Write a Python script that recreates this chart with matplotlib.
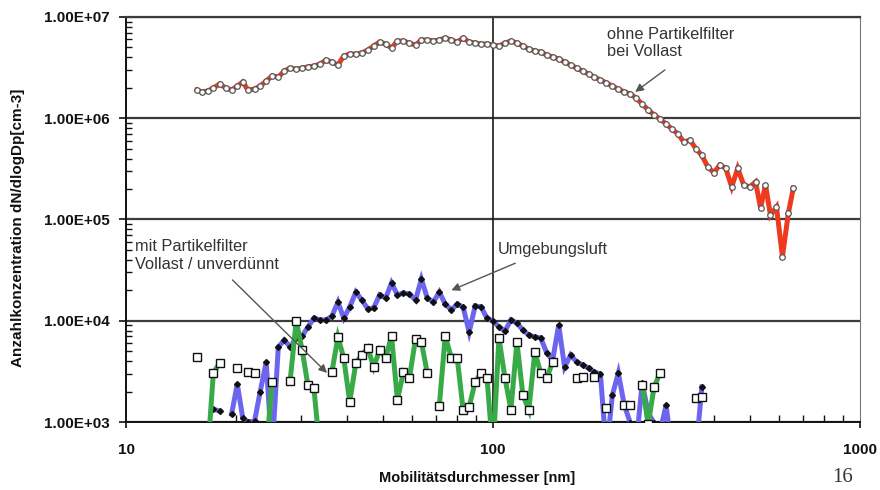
import matplotlib
matplotlib.use('Agg')
import matplotlib.pyplot as plt
from matplotlib.ticker import FixedLocator, FixedFormatter, LogLocator, NullFormatter

nan = float('nan')

# Mobility diameter channels [nm]
diameter_nm = [
    15.6, 16.1, 16.7, 17.3, 18.0, 18.7, 19.4, 20.1, 20.8, 21.5,
    22.4, 23.2, 24.1, 25.0, 26.0, 27.0, 28.0, 29.1, 30.2, 31.3,
    32.5, 33.8, 35.1, 36.4, 37.8, 39.2, 40.7, 42.3, 43.9, 45.6,
    47.3, 49.1, 51.0, 52.9, 54.9, 57.0, 59.2, 61.5, 63.8, 66.2,
    68.8, 71.4, 74.1, 77.0, 79.9, 82.9, 86.1, 89.4, 92.8, 96.3,
    100.0, 103.8, 107.8, 111.9, 116.2, 120.6, 125.2, 130.0, 134.9, 140.1,
    145.4, 151.0, 156.7, 162.7, 168.9, 175.4, 182.1, 189.0, 196.2, 203.7,
    211.5, 219.5, 227.9, 236.6, 245.6, 255.0, 264.7, 274.8, 285.3, 296.2,
    307.5, 319.2, 331.4, 344.0, 357.2, 370.8, 384.9, 399.6, 414.9, 430.7,
    447.1, 464.2, 481.9, 500.3, 519.3, 535.8, 552.7, 570.3, 592.1, 614.7,
    638.1, 658.3,
]

# ohne Partikelfilter bei Vollast
ohne_filter = [
    1.90e6, 1.82e6, 1.86e6, 1.99e6, 2.18e6, 1.99e6, 1.90e6, 2.08e6, 2.28e6, 1.90e6,
    1.94e6, 2.08e6, 2.33e6, 2.61e6, 2.55e6, 2.93e6, 3.13e6, 3.06e6, 3.13e6, 3.21e6,
    3.28e6, 3.43e6, 3.76e6, 3.59e6, 3.36e6, 4.12e6, 4.31e6, 4.31e6, 4.41e6, 4.72e6,
    5.17e6, 5.66e6, 5.41e6, 4.94e6, 5.79e6, 5.79e6, 5.53e6, 5.29e6, 5.93e6, 5.93e6,
    5.79e6, 5.93e6, 6.20e6, 5.93e6, 5.66e6, 6.20e6, 5.66e6, 5.53e6, 5.41e6, 5.41e6,
    5.29e6, 5.17e6, 5.53e6, 5.79e6, 5.53e6, 5.17e6, 4.83e6, 4.61e6, 4.51e6, 4.21e6,
    4.03e6, 3.85e6, 3.59e6, 3.36e6, 3.13e6, 2.93e6, 2.73e6, 2.55e6, 2.39e6, 2.23e6,
    2.08e6, 1.94e6, 1.82e6, 1.74e6, 1.58e6, 1.38e6, 1.21e6, 1.08e6, 9.8e5, 8.8e5,
    7.8e5, 7.0e5, 5.8e5, 6.1e5, 5.0e5, 4.3e5, 3.3e5, 2.9e5, 3.45e5, 3.2e5,
    2.1e5, 3.2e5, 2.2e5, 2.1e5, 2.35e5, 1.3e5, 2.2e5, 1.1e5, 1.33e5, 4.3e4,
    1.16e5, 2.05e5,
]

# Umgebungsluft
umgebungsluft = [
    nan, nan, nan, 1.34e3, 1.28e3, nan, 1.20e3, 2.37e3, 1.10e3, 1.0e3,
    1.02e3, 1.98e3, 3.92e3, 5e2, 5.5e3, 6.45e3, 5.5e3, 6.76e3, 7.07e3, 8.67e3,
    1.06e4, 1.02e4, 1.02e4, 1.11e4, 1.53e4, 1.06e4, 1.37e4, 1.92e4, 1.60e4, 1.31e4,
    1.34e4, 1.80e4, 1.68e4, 2.36e4, 1.80e4, 1.88e4, 1.84e4, 1.60e4, 2.58e4, 1.68e4,
    1.53e4, 1.92e4, 1.46e4, 1.28e4, 1.46e4, 1.37e4, 7.74e3, 1.40e4, 1.37e4, 1.06e4,
    9.95e3, 8.67e3, 7.92e3, 1.02e4, 9.5e3, 8.1e3, 7.23e3, 6.91e3, 6.76e3, 4.80e3,
    4.09e3, 9.08e3, 3.49e3, 4.59e3, 3.92e3, 3.66e3, 3.41e3, 3.12e3, 2.98e3, 5e2,
    1.85e3, 3.05e3, 1.47e3, 9.8e2, 6e2, 2.43e3, 1.23e3, 9.8e2, 8e2, 1.47e3,
    5e2, nan, nan, nan, 5e2, 2.22e3, nan, nan, nan, nan,
    nan, nan, nan, nan, nan, nan, nan, nan, nan, nan,
    nan, nan,
]

# mit Partikelfilter, Vollast / unverduennt
mit_filter = [
    4.38e3, nan, 5e2, 3.05e3, 3.83e3, nan, nan, 3.41e3, nan, 3.12e3,
    3.05e3, nan, 5e2, 2.48e3, nan, nan, 2.54e3, 9.95e3, 5.14e3, 2.32e3,
    2.17e3, 5e2, nan, 3.12e3, 6.91e3, 4.29e3, 1.58e3, 3.83e3, 4.59e3, 5.38e3,
    3.49e3, 5.14e3, 4.29e3, 7.07e3, 1.65e3, 3.12e3, 2.72e3, 6.61e3, 6.17e3, 3.05e3,
    nan, 1.44e3, 7.07e3, 4.29e3, 4.29e3, 1.32e3, 1.41e3, 2.48e3, 3.05e3, 2.72e3,
    5e2, 6.76e3, 2.72e3, 1.32e3, 6.17e3, 1.85e3, 1.32e3, 4.91e3, 3.05e3, 2.72e3,
    3.92e3, nan, nan, nan, 2.72e3, 2.78e3, nan, 2.78e3, nan, 1.37e3,
    nan, nan, 1.47e3, 1.47e3, nan, 2.32e3, 9.5e2, 2.22e3, 3.05e3, nan,
    nan, nan, nan, nan, 1.73e3, 1.77e3, nan, nan, nan, nan,
    nan, nan, nan, nan, nan, nan, nan, nan, nan, nan,
    nan, nan,
]

y_ticks = [1e3, 1e4, 1e5, 1e6, 1e7]
y_tick_labels = ['1.00E+03', '1.00E+04', '1.00E+05', '1.00E+06', '1.00E+07']
x_ticks = [10, 100, 1000]
x_tick_labels = ['10', '100', '1000']

plt.rcParams['font.family'] = ['Liberation Sans', 'DejaVu Sans']

W, H = 880, 490
fig = plt.figure(figsize=(W / 100, H / 100), dpi=100)
ax = fig.add_axes([126 / W, 1 - 422 / H, (860 - 126) / W, (422 - 17) / H])
ax.set_xscale('log')
ax.set_yscale('log')
ax.set_xlim(10, 1000)
ax.set_ylim(1e3, 1e7)

# grid
for yv in y_ticks:
    ax.axhline(yv, color='#3c3c3c', lw=1.6, zorder=1)
ax.axvline(100, color='#1a1a1a', lw=1.2, zorder=1)

# series
ax.plot(diameter_nm, umgebungsluft, color='#6c66ee', lw=3.6, zorder=3,
        marker='D', ms=3.0, mfc='#111111', mec='#111111', solid_joinstyle='miter')
ax.plot(diameter_nm, mit_filter, color='#38aa48', lw=3.6, zorder=4,
        marker='s', ms=5.2, mfc='white', mec='#111111', mew=1.0, solid_joinstyle='miter')
ax.plot(diameter_nm, ohne_filter, color='#ee3a1e', lw=3.6, zorder=3,
        solid_joinstyle='miter')
ax.plot(diameter_nm, ohne_filter, ls='none', zorder=5,
        marker='o', ms=4.0, mfc='white', mec='#555555', mew=0.9)

# spines
for side in ['left', 'bottom']:
    ax.spines[side].set_color('#111111')
    ax.spines[side].set_linewidth(1.4)
ax.spines['top'].set_color('#3c3c3c')
ax.spines['top'].set_linewidth(1.6)
ax.spines['right'].set_color('#777777')
ax.spines['right'].set_linewidth(0.8)

# ticks
ax.yaxis.set_major_locator(FixedLocator(y_ticks))
ax.yaxis.set_major_formatter(FixedFormatter(y_tick_labels))
ax.yaxis.set_minor_locator(LogLocator(base=10, subs=[2, 3, 4, 5, 6, 7, 8, 9]))
ax.yaxis.set_minor_formatter(NullFormatter())
ax.xaxis.set_major_locator(FixedLocator(x_ticks))
ax.xaxis.set_major_formatter(FixedFormatter(x_tick_labels))
ax.xaxis.set_minor_locator(LogLocator(base=10, subs=[2, 3, 4, 5, 6, 7, 8, 9]))
ax.xaxis.set_minor_formatter(NullFormatter())

ax.tick_params(axis='y', which='major', direction='out', length=5, width=1.2,
               pad=7, labelsize=11, colors='#111111')
ax.tick_params(axis='y', which='minor', direction='in', length=4, width=1.0,
               color='#111111')
ax.tick_params(axis='x', which='major', direction='out', length=4, width=1.2,
               pad=11, labelsize=11, colors='#111111')
ax.tick_params(axis='x', which='minor', direction='in', length=5, width=1.0,
               color='#111111')
for lbl in ax.get_xticklabels() + ax.get_yticklabels():
    lbl.set_fontweight('bold')

# axis titles
fig.text(477 / W, 1 - 478 / H, 'Mobilitätsdurchmesser [nm]', ha='center',
         va='center', fontsize=10.5, fontweight='bold', color='#111111')
fig.text(18 / W, 1 - 228 / H, 'Anzahlkonzentration dN/dlogDp[cm-3]', ha='center',
         va='center', rotation=90, fontsize=11, fontweight='bold', color='#111111')
fig.text(843 / W, 1 - 477 / H, '16', ha='center', va='center', fontsize=15,
         family=['Liberation Serif', 'DejaVu Serif'], color='#333333')

# annotations
txt_kw = dict(fontsize=11.8, color='#333333', ha='left', va='top', linespacing=1.2)
arrow_kw = dict(arrowstyle='-|>', color='#555555', lw=1.0, mutation_scale=12,
                shrinkA=0, shrinkB=0)

ax.text(205, 8.0e6, 'ohne Partikelfilter\nbei Vollast', zorder=6, **txt_kw)
ax.annotate('', xy=(244, 1.82e6), xytext=(294, 3.0e6), arrowprops=arrow_kw, zorder=6)

ax.text(103, 6.0e4, 'Umgebungsluft', zorder=6, **txt_kw)
ax.annotate('', xy=(77, 2.0e4), xytext=(115, 3.7e4), arrowprops=arrow_kw, zorder=6)

ax.text(10.6, 6.4e4, 'mit Partikelfilter\nVollast / unverdünnt', zorder=6, **txt_kw)
ax.annotate('', xy=(35.3, 3.05e3), xytext=(19.5, 2.53e4), arrowprops=arrow_kw, zorder=6)

fig.savefig('out.png', dpi=100)
